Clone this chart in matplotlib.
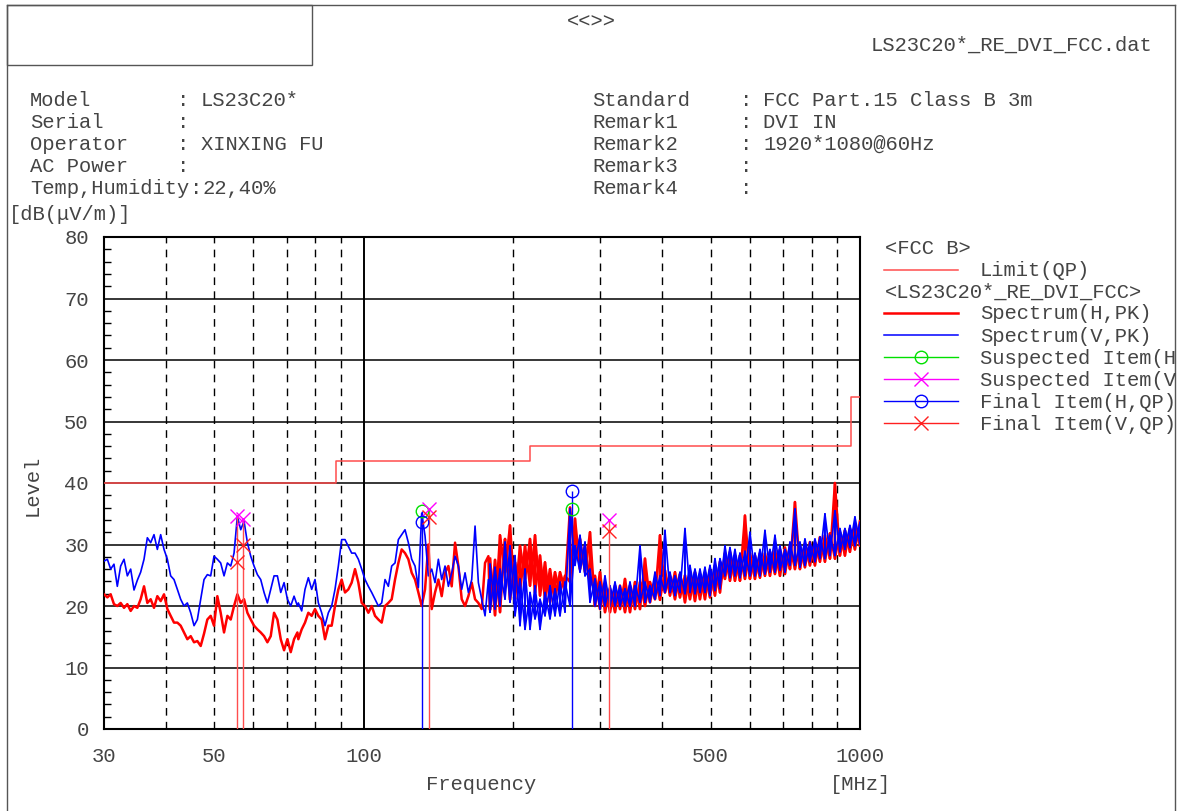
import numpy as np
import matplotlib
matplotlib.use("Agg")
import matplotlib.pyplot as plt
from matplotlib.lines import Line2D
from matplotlib.patches import Rectangle
from matplotlib.ticker import MultipleLocator, NullLocator

plt.rcParams['font.family'] = ['Liberation Mono', 'DejaVu Sans']

W, H = 1178, 811
FS = 14.8
TXT = '#444444'

# ---- spectrum, 30-180 MHz (single trace) ----
freq_low = [
    30.00, 30.47, 30.94, 31.42, 31.91, 32.41, 32.92, 33.43, 33.95, 34.48,
    35.02, 35.56, 36.12, 36.68, 37.25, 37.83, 38.42, 39.02, 39.63, 40.25,
    40.87, 41.51, 42.16, 42.81, 43.48, 44.16, 44.85, 45.55, 46.26, 46.98,
    47.71, 48.45, 49.21, 49.97, 50.75, 51.54, 52.35, 53.17, 54.00, 54.84,
    55.69, 56.56, 57.44, 58.34, 59.25, 60.17, 61.11, 62.06, 63.03, 64.01,
    65.01, 66.02, 67.05, 68.10, 69.16, 70.24, 71.33, 72.44, 73.57,
    73.89, 75.05, 76.21, 77.40, 78.61, 79.83, 81.08, 82.34, 83.62, 84.93,
    86.25, 87.59, 88.96, 90.34, 91.75, 93.18, 94.63, 96.11, 97.61, 99.13,
    100.67, 102.24, 103.84, 105.46, 107.10, 108.77, 110.46, 112.18, 113.93, 115.71,
    117.51, 119.34, 121.20, 123.09, 125.01, 126.96, 128.94, 130.95, 132.99, 135.06,
    137.17, 139.30, 141.47, 143.68, 145.92, 148.19, 150.50, 152.85, 155.23, 157.65,
    160.11, 162.60, 165.14, 167.71, 170.32, 172.98, 175.67, 178.41,
]
h_low = [
    21.9, 21.4, 21.9, 20.3, 20.0, 20.5, 19.7, 20.3, 19.2, 20.0,
    19.7, 21.1, 23.2, 20.5, 21.1, 19.7, 21.6, 20.8, 21.9, 19.5,
    18.4, 17.3, 17.3, 16.8, 15.7, 14.6, 15.1, 14.1, 14.3, 13.5,
    15.5, 17.8, 18.4, 16.8, 21.6, 18.9, 15.7, 18.4, 17.8, 20.0,
    21.9, 20.5, 21.1, 18.9, 17.8, 16.8, 16.2, 15.7, 15.1, 14.1,
    15.1, 18.9, 17.8, 14.6, 12.8, 14.6, 12.5, 14.6, 15.7,
    14.6, 16.2, 17.3, 18.9, 18.4, 19.5, 18.4, 17.8, 14.6, 16.8,
    16.8, 20.0, 22.7, 24.3, 22.2, 22.7, 23.8, 26.0, 23.8, 20.5,
    20.0, 18.9, 20.0, 18.4, 17.8, 17.3, 20.0, 20.5, 21.1, 24.3,
    27.0, 29.2, 28.6, 27.6, 25.4, 24.3, 22.2, 20.0, 22.7, 30.0,
    19.5, 22.2, 24.3, 21.6, 25.4, 26.5, 23.2, 30.3, 26.5, 21.1,
    20.0, 21.6, 23.8, 21.1, 20.5, 19.5, 27.0, 28.1,
]
v_low = [
    27.3, 27.6, 26.0, 26.8, 23.2, 26.5, 27.6, 24.9, 26.0, 22.6,
    24.2, 25.5, 27.6, 31.1, 30.3, 31.6, 29.2, 31.6, 29.2, 27.6,
    24.9, 24.3, 22.7, 21.1, 20.0, 20.5, 18.9, 16.8, 17.8, 21.1,
    24.3, 25.1, 24.9, 28.1, 27.6, 27.0, 24.9, 27.0, 26.5, 28.6,
    34.6, 32.4, 33.8, 30.3, 28.1, 26.5, 25.1, 24.3, 22.2, 20.5,
    22.7, 24.9, 24.9, 22.2, 23.8, 21.1, 20.0, 21.6, 20.0,
    20.5, 19.2, 22.7, 24.6, 22.7, 24.3, 20.5, 18.9, 16.8, 18.9,
    20.0, 22.7, 26.5, 30.8, 30.8, 29.7, 28.6, 28.6, 27.6, 26.0,
    24.3, 23.2, 22.2, 21.1, 20.0, 20.5, 24.3, 23.2, 26.5, 27.0,
    30.8, 31.6, 32.4, 30.3, 27.6, 26.5, 23.0, 35.1, 31.4, 24.9,
    26.0, 23.8, 27.6, 24.3, 26.5, 23.2, 25.4, 28.1, 26.5, 22.7,
    25.4, 22.2, 24.3, 33.0, 23.8, 21.1, 18.4, 24.3,
]

# ---- spectrum, 180-1000 MHz (min / max of the noisy band) ----
freq_high = [
    179.77, 183.99, 188.30, 192.72, 197.24, 201.87, 206.60, 211.45, 216.41, 221.49,
    226.68, 232.00, 237.44, 243.01, 248.71, 254.54, 260.51, 266.62, 272.88, 279.28,
    285.83, 292.53, 299.39, 306.42, 313.61, 320.97, 328.50, 336.20, 344.09, 352.16,
    360.42, 368.87, 377.52, 386.38, 395.44, 404.72, 414.21, 423.93, 433.87,
    444.04, 454.46, 465.11, 476.02, 487.19, 498.61, 510.29, 522.29, 534.53, 547.07,
    559.90, 573.03, 586.48, 600.23, 614.31, 628.71, 643.46, 658.58, 674.04, 689.85,
    706.02, 722.58, 739.53, 756.87, 774.62, 792.78, 811.38, 830.43, 849.90, 869.83,
    890.23, 911.10, 932.48, 954.34, 976.72, 1000.0,
]
h_min = [
    19.5, 18.5, 19.0, 25.5, 21.0, 21.1, 22.2, 24.4, 23.3, 22.2,
    21.7, 21.1, 20.6, 21.1, 22.2, 22.8, 23.9, 28.2, 26.0, 25.5,
    23.3, 20.0, 19.5, 19.0, 19.0, 19.0, 19.5, 19.0, 19.0, 19.5,
    19.5, 20.0, 20.6, 21.1, 21.0, 22.2, 21.7, 21.1, 21.4,
    20.6, 21.1, 20.8, 21.1, 21.1, 21.4, 21.7, 22.2, 24.4, 24.1,
    24.1, 24.1, 24.4, 24.4, 24.4, 24.6, 24.9, 24.9, 25.2, 24.9,
    25.2, 26.0, 26.0, 26.0, 26.3, 26.6, 26.6, 27.2, 27.2, 27.7,
    27.7, 28.2, 28.2, 28.8, 29.2, 29.8,
]
h_max = [
    27.7, 27.5, 31.5, 30.9, 33.1, 27.1, 29.8, 29.8, 30.9, 31.5,
    28.2, 27.1, 26.0, 25.5, 25.5, 24.9, 36.0, 34.2, 30.9, 29.8,
    32.0, 24.9, 25.5, 23.3, 22.8, 23.3, 23.3, 24.4, 23.3, 23.9,
    23.9, 27.7, 23.9, 24.4, 31.5, 25.8, 24.9, 25.5, 25.2,
    25.0, 25.5, 25.5, 25.2, 25.5, 26.0, 26.6, 27.2, 28.6, 28.8,
    28.2, 28.2, 34.7, 28.6, 28.2, 28.6, 28.6, 28.8, 29.2, 29.2,
    29.5, 29.8, 36.9, 29.8, 30.1, 30.4, 30.4, 31.2, 31.5, 31.8,
    40.0, 32.0, 32.3, 32.6, 33.1, 33.8,
]
v_min = [
    19.0, 19.5, 20.0, 21.1, 20.6, 18.4, 16.8, 16.2, 16.2, 17.9,
    16.2, 18.4, 17.9, 18.4, 18.4, 19.0, 20.0, 26.6, 25.5, 24.9,
    20.6, 20.0, 19.5, 20.0, 20.0, 20.0, 20.0, 20.0, 20.0, 20.0,
    20.6, 20.6, 20.6, 21.1, 21.7, 22.2, 22.2, 21.7, 22.2,
    22.0, 22.2, 22.0, 22.2, 22.2, 21.7, 22.5, 22.8, 24.9, 24.6,
    24.9, 24.6, 24.9, 24.9, 24.9, 24.9, 25.2, 25.5, 25.5, 25.8,
    25.5, 26.6, 26.6, 26.3, 26.6, 27.2, 27.2, 27.7, 27.7, 28.2,
    28.2, 28.8, 29.2, 29.5, 29.8, 30.1,
]
v_max = [
    26.8, 26.3, 26.0, 30.4, 29.8, 28.2, 24.4, 26.0, 22.2, 23.3,
    21.1, 22.2, 23.3, 22.8, 23.9, 23.9, 35.8, 29.8, 31.5, 30.4,
    26.0, 24.4, 23.9, 24.9, 23.3, 23.9, 23.3, 22.8, 23.9, 23.3,
    29.8, 23.9, 23.3, 25.5, 24.9, 32.3, 25.5, 24.9, 25.5,
    32.6, 26.6, 26.0, 26.0, 26.3, 26.6, 27.7, 27.7, 29.8, 29.5,
    29.2, 28.6, 28.9, 32.0, 28.6, 29.2, 32.3, 29.2, 31.5, 29.8,
    29.2, 30.4, 35.8, 30.4, 30.9, 30.4, 30.9, 31.2, 35.0, 31.5,
    35.5, 32.6, 32.6, 33.1, 34.5, 33.6,
]

# ---- FCC class B limit (QP) ----
limit_freq = [30, 88, 216, 960, 1000]
limit_level = [40, 43.5, 46, 54, 54]

# ---- measured items ----
susp_h_freq = [131.1, 263.3]
susp_h_level = [35.5, 35.7]
susp_v_freq = [55.7, 57.2, 135.3, 311.8]
susp_v_level = [34.6, 34.1, 35.7, 34.0]
final_h_freq = [131.1, 263.3]
final_h_level = [33.6, 38.7]
final_v_freq = [55.7, 57.2, 135.3, 311.8]
final_v_level = [27.2, 29.9, 34.4, 32.2]

dashed_freqs = [40, 50, 60, 70, 80, 90, 200, 300, 400, 500, 600, 700, 800, 900]


def fx(px):
    return px / W


def fy(py):
    return 1 - py / H


def zigzag(f, a, b):
    # jump between the band edges at every frequency point
    return np.repeat(f, 2), np.column_stack([a, b]).ravel()


def draw_spectrum(ax, low, lo, hi, color, lw, z):
    ax.plot(freq_low + freq_high[:1], low + lo[:1], color=color, lw=lw, zorder=z)
    ax.plot(*zigzag(freq_high, lo, hi), color=color, lw=lw, zorder=z)
    ax.plot(*zigzag(freq_high, hi, lo), color=color, lw=lw, zorder=z)


fig = plt.figure(figsize=(W / 100, H / 100), dpi=100)
ax = fig.add_axes([fx(104), fy(729), 756 / W, 492 / H])
ax.set_xscale('log')
ax.set_xlim(30, 1000)
ax.set_ylim(0, 80)

for f in dashed_freqs:
    ax.axvline(f, color='black', lw=1, dashes=(5.5, 4.5), zorder=1)
ax.axvline(100, color='black', lw=1.4, zorder=1)
for lvl in range(10, 80, 10):
    ax.axhline(lvl, color='black', lw=1.1, zorder=1)

ax.plot(limit_freq, limit_level, drawstyle='steps-post', color='#ff4d4d', lw=1.1, zorder=3)

draw_spectrum(ax, h_low, h_min, h_max, '#ff0000', 1.8, 4)
draw_spectrum(ax, v_low, v_min, v_max, '#0000ff', 1.2, 5)

ax.vlines(final_h_freq, 0, np.maximum(final_h_level, susp_h_level), color='#0000ff', lw=1, zorder=6)
ax.vlines(final_v_freq, 0, np.maximum(final_v_level, susp_v_level), color='#ff4d4d', lw=1, zorder=6)
ax.plot(susp_h_freq, susp_h_level, 'o', ms=9, mfc='none', mec='#00e000', mew=1, zorder=7)
ax.plot(susp_v_freq, susp_v_level, 'x', ms=10, mec='#ff00ff', mew=1, zorder=7)
ax.plot(final_h_freq, final_h_level, 'o', ms=9, mfc='none', mec='#0000ff', mew=1, zorder=7)
ax.plot(final_v_freq, final_v_level, 'x', ms=10, mec='#ff2020', mew=1, zorder=7)

ax.set_xticks([30, 50, 100, 500, 1000])
ax.set_xticklabels(['30', '50', '100', '500', '1000'])
ax.xaxis.set_minor_locator(NullLocator())
ax.tick_params(axis='x', which='major', length=0, pad=13, labelsize=FS, labelcolor=TXT)
ax.set_yticks(range(0, 81, 10))
ax.yaxis.set_minor_locator(MultipleLocator(2))
ax.tick_params(axis='y', which='major', length=0, pad=11, labelsize=FS, labelcolor=TXT)
ax.tick_params(axis='y', which='minor', length=5, width=1, direction='in', left=True)
for sp in ax.spines.values():
    sp.set_linewidth(1.5)
    sp.set_color('black')

# page frame
frame_kw = dict(transform=fig.transFigure, color='#555555', lw=1)
fig.add_artist(Line2D([fx(7), fx(7)], [fy(5), fy(811)], **frame_kw))
fig.add_artist(Line2D([fx(7), fx(1175)], [fy(5), fy(5)], **frame_kw))
fig.add_artist(Line2D([fx(1175), fx(1175)], [fy(5), fy(811)], **frame_kw))
fig.add_artist(Rectangle((fx(7), fy(65)), fx(312) - fx(7), fy(5) - fy(65), fill=False,
                         edgecolor='#555555', lw=1, transform=fig.transFigure))


def put(px, py, s, ha='left', **kw):
    fig.text(fx(px), fy(py), s, ha=ha, va='center', fontsize=FS, color=TXT, **kw)


put(591, 22, '<<>>', ha='center')
put(1152, 45, 'LS23C20*_RE_DVI_FCC.dat', ha='right')

left_rows = [('Model', 'LS23C20*'), ('Serial', ''), ('Operator', 'XINXING FU'),
             ('AC Power', ''), ('Temp,Humidity', '22,40%')]
right_rows = [('Standard', 'FCC Part.15 Class B 3m'), ('Remark1', 'DVI IN'),
              ('Remark2', '1920*1080@60Hz'), ('Remark3', ''), ('Remark4', '')]
for k, ((la, va), (lb, vb)) in enumerate(zip(left_rows, right_rows)):
    y = 101 + k * 21.8
    put(30, y, la)
    if len(la) > 12:
        # the long label runs into the colon column, so squeeze the colon in after it
        put(196, y, ':', ha='center')
        put(203, y, va)
    else:
        put(177, y, ':')
        put(201, y, va)
    put(592, y, lb)
    put(740, y, ':')
    put(763, y, vb)

put(9, 214, '[dB(μV/m)]')
fig.text(fx(32), fy(485), 'Level', rotation=90, ha='center', va='center', fontsize=FS, color=TXT)
put(481, 785, 'Frequency', ha='center')
put(860, 784, '[MHz]', ha='center')

# legend block
put(885, 249, '<FCC B>')
fig.add_artist(Line2D([fx(884), fx(958)], [fy(270), fy(270)], transform=fig.transFigure,
                      color='#ff4d4d', lw=1.1))
put(980, 271, 'Limit(QP)')
put(885, 292, '<LS23C20*_RE_DVI_FCC>')
legend_rows = [
    ('Spectrum(H,PK)', '#ff0000', None, 1.8),
    ('Spectrum(V,PK)', '#0000ff', None, 1.1),
    ('Suspected Item(H', '#00e000', 'o', 1.0),
    ('Suspected Item(V', '#ff00ff', 'x', 1.0),
    ('Final Item(H,QP)', '#0000ff', 'o', 1.0),
    ('Final Item(V,QP)', '#ff2020', 'x', 1.0),
]
for k, (label, col, mk, lw) in enumerate(legend_rows):
    y = 313 + k * 22
    fig.add_artist(Line2D([fx(884), fx(958)], [fy(y), fy(y)], transform=fig.transFigure,
                          color=col, lw=lw))
    if mk:
        fig.add_artist(Line2D([fx(921)], [fy(y)], transform=fig.transFigure, marker=mk,
                              ms=9 if mk == 'o' else 10, mfc='none', mec=col, mew=1, lw=0))
    put(980, y + 1, label)

fig.savefig('out.png', dpi=100)
